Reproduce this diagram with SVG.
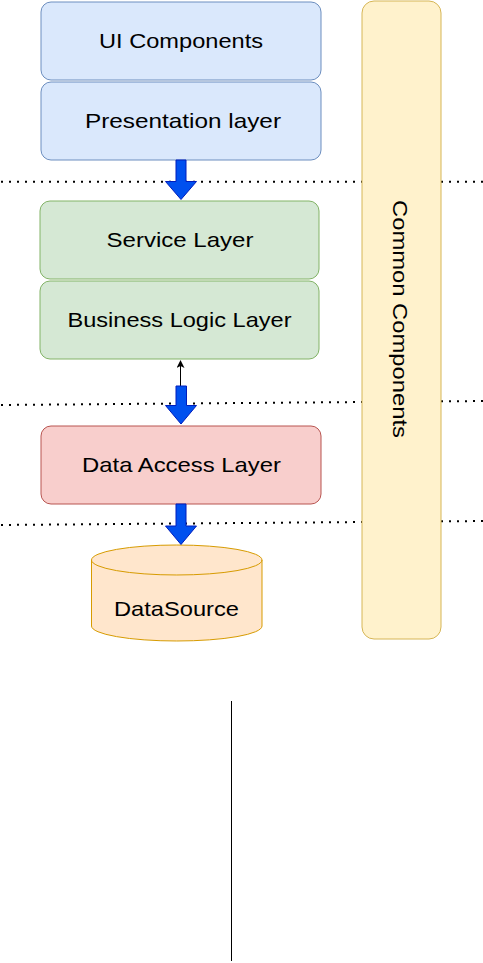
<svg xmlns="http://www.w3.org/2000/svg" width="483" height="963" viewBox="0 0 483 963">
<style>
text{font-family:"Liberation Sans",Arial,Helvetica,sans-serif;font-size:21px;fill:#000;text-anchor:middle}
.blue{fill:#dae8fc;stroke:#6c8ebf;stroke-width:1}
.green{fill:#d5e8d4;stroke:#82b366;stroke-width:1}
.red{fill:#f8cecc;stroke:#b85450;stroke-width:1}
.orange{fill:#ffe6cc;stroke:#d79b00;stroke-width:1}
.yellow{fill:#fff2cc;stroke:#d6b656;stroke-width:1}
.dot{fill:none;stroke:#000;stroke-width:2;stroke-dasharray:2 6}
.barrow{fill:#0050ef;stroke:#001dbc;stroke-width:1}
</style>
<defs>
<marker id="ah" markerWidth="8" markerHeight="8" refX="7" refY="4" orient="auto" markerUnits="userSpaceOnUse" viewBox="0 0 8 8">
<path d="M0,0 L8,4 L0,8 L2,4 Z" fill="#000"/>
</marker>
</defs>
<rect width="483" height="963" fill="#fff"/>
<g id="separators">
<line class="dot" x1="1" y1="181.7" x2="483" y2="181.7"/>
<line class="dot" x1="1" y1="405" x2="483" y2="401"/>
<line class="dot" x1="1" y1="525" x2="483" y2="521"/>
</g>
<g id="common-components">
<rect class="yellow" x="362" y="1" width="79" height="638" rx="12"/>
<text transform="translate(393,319) rotate(90)" textLength="238" lengthAdjust="spacingAndGlyphs">Common Components</text>
</g>
<g id="ui-components">
<rect class="blue" x="41" y="2" width="280" height="78" rx="10"/>
<text x="181" y="48" textLength="164" lengthAdjust="spacingAndGlyphs">UI Components</text>
</g>
<g id="presentation-layer">
<rect class="blue" x="41" y="82" width="280" height="78" rx="10"/>
<text x="183" y="127.5" textLength="196" lengthAdjust="spacingAndGlyphs">Presentation layer</text>
</g>
<g id="service-layer">
<rect class="green" x="40" y="201" width="279" height="78" rx="10"/>
<text x="180" y="247" textLength="147" lengthAdjust="spacingAndGlyphs">Service Layer</text>
</g>
<g id="business-logic-layer">
<rect class="green" x="40" y="281" width="279" height="78" rx="10"/>
<text x="179.5" y="326.5" textLength="224" lengthAdjust="spacingAndGlyphs">Business Logic Layer</text>
</g>
<g id="data-access-layer">
<rect class="red" x="41" y="426" width="280" height="78" rx="10"/>
<text x="181.5" y="472" textLength="199" lengthAdjust="spacingAndGlyphs">Data Access Layer</text>
</g>
<g id="datasource">
<path class="orange" d="M91.5,560 A85.25,15 0 0 1 262,560 L262,626 A85.25,15 0 0 1 91.5,626 Z"/>
<path fill="none" stroke="#d79b00" d="M91.5,560 A85.25,15 0 0 0 262,560"/>
<text x="176.5" y="615.5" textLength="125" lengthAdjust="spacingAndGlyphs">DataSource</text>
</g>
<g id="connectors">
<path class="barrow" d="M176,160 L186,160 L186,181.5 L196.5,181.5 L181,199.5 L165.5,181.5 L176,181.5 Z"/>
<line x1="180.5" y1="386" x2="180.5" y2="361" stroke="#000" stroke-width="1" marker-end="url(#ah)"/>
<path class="barrow" d="M176,386 L186.5,386 L186.5,405.5 L196.5,405.5 L181,424 L165.5,405.5 L176,405.5 Z"/>
<path class="barrow" d="M176,504 L186,504 L186,526 L196.5,526 L181,544.5 L165.5,526 L176,526 Z"/>
<line x1="231.5" y1="701" x2="231.5" y2="961" stroke="#000" stroke-width="1"/>
</g>
</svg>
